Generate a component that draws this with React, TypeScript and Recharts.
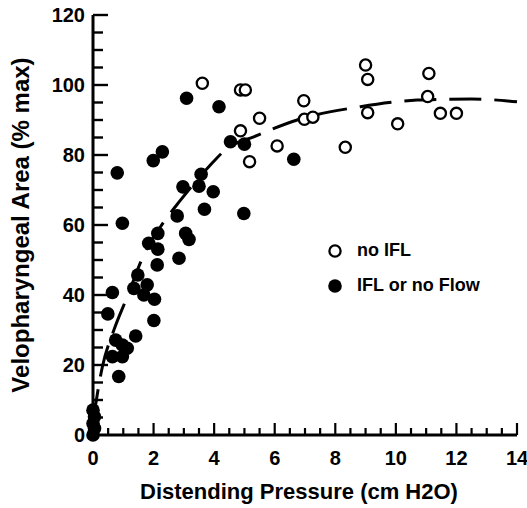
import React from "react";
import { ComposedChart, Scatter, Line, XAxis, YAxis, Legend } from "recharts";

// open circles: no IFL
const noIflPressure = [3.61, 4.87, 5.03, 5.5, 4.87, 6.08, 5.17, 9.0, 9.07, 11.09, 11.05, 6.96, 6.98, 7.26, 9.07, 11.47, 12.0, 10.06, 8.33];
const noIflArea = [100.5, 98.6, 98.6, 90.5, 86.9, 82.6, 78.1, 105.7, 101.6, 103.3, 96.7, 95.5, 90.2, 90.8, 92.1, 91.9, 91.9, 88.9, 82.2];

// filled circles: IFL or no flow
const iflPressure = [3.09, 4.16, 4.54, 5.0, 6.63, 2.29, 1.99, 0.8, 3.57, 2.97, 3.5, 3.97, 3.68, 4.98, 2.78, 0.97, 2.14, 3.06, 3.17, 1.84, 2.14, 2.84, 2.12, 1.48, 1.35, 1.79, 1.68, 2.03, 0.64, 0.49, 2.01, 1.41, 0.75, 0.97, 1.13, 0.64, 0.97, 0.85, 0, 0.05, 0, 0.05, 0];
const iflArea = [96.2, 93.8, 83.8, 83.1, 78.8, 80.9, 78.4, 74.9, 74.5, 70.9, 71.1, 69.5, 64.5, 63.3, 62.6, 60.5, 57.6, 57.6, 55.9, 54.8, 53.1, 50.5, 48.6, 45.7, 41.9, 42.9, 40, 38.8, 40.7, 34.6, 32.7, 28.3, 27.1, 25.7, 24.8, 22.4, 22.4, 16.7, 7.1, 5.2, 3.3, 1.9, 0];

// dashed fitted curve
const curvePressure = [0, 0.31, 0.69, 1.13, 1.68, 2.23, 2.89, 3.83, 4.43, 5.31, 6.74, 8.83, 10.7, 11.47, 12.5, 14];
const curveArea = [4, 19.5, 30, 39.5, 51.5, 59.5, 67.1, 76.7, 81.9, 85.2, 90, 93.8, 95.7, 95.9, 96, 95.2];

const xMinorTicks = [0.5, 1, 1.5, 2, 2.5, 3, 3.5, 4, 4.5, 5, 5.5, 6, 6.5, 7, 7.5, 8, 8.5, 9, 9.5, 10, 10.5, 11, 11.5, 12, 12.5, 13, 13.5, 14];
const xMajorTicks = [0, 2, 4, 6, 8, 10, 12, 14];
const yMinorTicks = [5, 10, 15, 20, 25, 30, 35, 40, 45, 50, 55, 60, 65, 70, 75, 80, 85, 90, 95, 100, 105, 110, 115, 120];
const yMajorTicks = [0, 20, 40, 60, 80, 100, 120];

const legendOrder = ["no IFL", "IFL or no Flow"];

const noIfl = noIflPressure.map((x, i) => ({ x, y: noIflArea[i] }));
const ifl = iflPressure.map((x, i) => ({ x, y: iflArea[i] }));
const curve = curvePressure.map((x, i) => ({ x, y: curveArea[i] }));
// tick marks sit on the axes, placed through the chart scales
const yTickMarks = yMinorTicks.map((y) => ({ x: 0, y, major: yMajorTicks.includes(y) }));
const xTickMarks = xMinorTicks.map((x) => ({ x, y: 0, major: xMajorTicks.includes(x) }));

const FONT = "'Liberation Sans', Arial, sans-serif";
const tickFont = { fill: "#000", fontSize: 20, fontWeight: 700, fontFamily: FONT };

const OpenDot = (props: any) => (
  <circle cx={props.cx} cy={props.cy} r={5.6} fill="#fff" stroke="#000" strokeWidth={2.3} />
);
const FilledDot = (props: any) => (
  <circle cx={props.cx} cy={props.cy} r={6.8} fill="#000" />
);
const YTickMark = (props: any) => (
  <line x1={props.cx} y1={props.cy} x2={props.cx + (props.payload.major ? 15 : 10)} y2={props.cy}
    stroke="#000" strokeWidth={2.4} />
);
const XTickMark = (props: any) => (
  <line x1={props.cx} y1={props.cy} x2={props.cx} y2={props.cy - (props.payload.major ? 12 : 7)}
    stroke="#000" strokeWidth={2.2} />
);

const renderLegend = (props: any) => {
  const items = (props.payload || [])
    .filter((p: any) => legendOrder.includes(p.value))
    .sort((a: any, b: any) => legendOrder.indexOf(a.value) - legendOrder.indexOf(b.value));
  return (
    <div style={{ fontFamily: FONT, fontWeight: 700, fontSize: 18, color: "#000" }}>
      {items.map((p: any) => (
        <div key={p.value} style={{ display: "flex", alignItems: "center", height: 35 }}>
          <svg width={16} height={16}>
            {p.value === "no IFL" ? (
              <circle cx={8} cy={8} r={5.6} fill="#fff" stroke="#000" strokeWidth={2.3} />
            ) : (
              <circle cx={8} cy={8} r={6.8} fill="#000" />
            )}
          </svg>
          <span style={{ marginLeft: 14 }}>{p.value}</span>
        </div>
      ))}
    </div>
  );
};

export default function App() {
  return (
    <div style={{ position: "absolute", left: 0, top: 0, background: "#fff" }}>
      <ComposedChart width={527} height={508} margin={{ top: 15, right: 10, bottom: 0, left: 0 }}>
        <XAxis
          type="number"
          dataKey="x"
          domain={[0, 14]}
          ticks={xMajorTicks}
          interval={0}
          height={73}
          tickSize={0}
          tickMargin={16}
          tickLine={false}
          tick={tickFont}
          axisLine={{ stroke: "#000", strokeWidth: 3 }}
          label={{
            value: "Distending Pressure (cm H2O)",
            position: "insideBottom",
            offset: 9,
            dx: -6,
            fill: "#000",
            style: { fontFamily: FONT, fontWeight: 700, fontSize: 22 },
          }}
        />
        <YAxis
          type="number"
          dataKey="y"
          domain={[0, 120]}
          ticks={yMajorTicks}
          interval={0}
          width={93}
          tickSize={0}
          tickMargin={8}
          tickLine={false}
          tick={tickFont}
          axisLine={{ stroke: "#000", strokeWidth: 3 }}
          label={{
            value: "Velopharyngeal Area (% max)",
            angle: -90,
            position: "insideLeft",
            offset: 20,
            fill: "#000",
            style: { fontFamily: FONT, fontWeight: 700, fontSize: 24, textAnchor: "middle" },
          }}
        />
        <Legend
          layout="vertical"
          align="center"
          verticalAlign="middle"
          content={renderLegend}
          wrapperStyle={{ left: 327, top: 233, width: 200 }}
        />
        <Scatter name="yTicks" data={yTickMarks} shape={<YTickMark />} legendType="none" isAnimationActive={false} />
        <Scatter name="xTicks" data={xTickMarks} shape={<XTickMark />} legendType="none" isAnimationActive={false} />
        <Line
          data={curve}
          dataKey="y"
          type="monotone"
          stroke="#000"
          strokeWidth={3}
          strokeDasharray="32 13"
          dot={false}
          legendType="none"
          isAnimationActive={false}
        />
        <Scatter name="no IFL" data={noIfl} shape={<OpenDot />} isAnimationActive={false} />
        <Scatter name="IFL or no Flow" data={ifl} shape={<FilledDot />} isAnimationActive={false} />
      </ComposedChart>
    </div>
  );
}
